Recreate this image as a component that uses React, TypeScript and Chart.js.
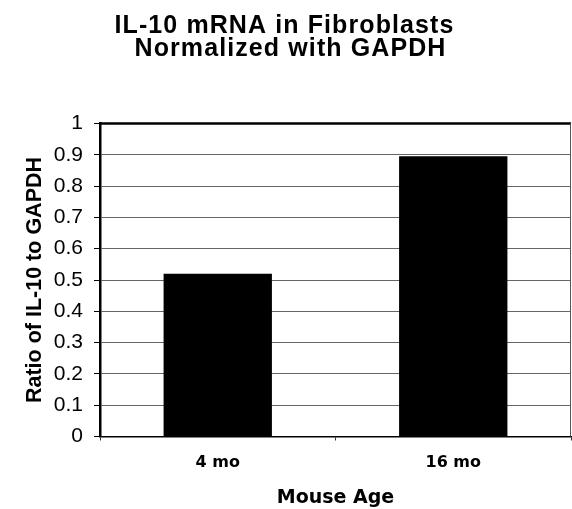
import { useEffect, useRef } from 'react';
import { Chart, registerables } from 'chart.js';

Chart.register(...registerables);

const categories = ['4 mo', '16 mo'];
const ratioValues = [0.52, 0.895];
const yTickLabels = ['0', '0.1', '0.2', '0.3', '0.4', '0.5', '0.6', '0.7', '0.8', '0.9', '1'];
const titleLines = ['IL-10 mRNA in Fibroblasts', 'Normalized with GAPDH'];
const xAxisTitle = 'Mouse Age';
const yAxisTitle = 'Ratio of IL-10 to GAPDH';

const titleCenters = [284.5, 290.5];
const titleBaselines = [33, 56];

const framePlugin = {
  id: 'frame',
  afterDatasetsDraw(chart: any) {
    const { ctx, chartArea } = chart;
    ctx.save();
    ctx.strokeStyle = '#000';
    ctx.lineWidth = 2.5;
    ctx.beginPath();
    ctx.moveTo(chartArea.left - 1, chartArea.top);
    ctx.lineTo(chartArea.right, chartArea.top);
    ctx.stroke();
    ctx.lineWidth = 1;
    ctx.strokeStyle = '#555';
    ctx.beginPath();
    ctx.moveTo(chartArea.right - 0.5, chartArea.top);
    ctx.lineTo(chartArea.right - 0.5, chartArea.bottom);
    ctx.stroke();
    ctx.restore();
  },
  afterDraw(chart: any) {
    const { ctx } = chart;
    ctx.save();
    ctx.fillStyle = '#000';
    ctx.font = 'bold 25px "Liberation Sans", Arial, sans-serif';
    try { (ctx as any).letterSpacing = '1.1px'; } catch (e) {}
    ctx.textAlign = 'center';
    ctx.textBaseline = 'alphabetic';
    titleLines.forEach((line, i) => {
      ctx.fillText(line, titleCenters[i], titleBaselines[i]);
    });
    ctx.restore();
  },
};

export default function App() {
  const ref = useRef<HTMLCanvasElement | null>(null);
  useEffect(() => {
    if (!ref.current) return;
    const chart = new Chart(ref.current, {
      type: 'bar',
      data: {
        labels: categories,
        datasets: [
          {
            data: ratioValues,
            backgroundColor: '#000',
            borderWidth: 0,
            categoryPercentage: 1,
            barPercentage: 0.46,
          },
        ],
      },
      plugins: [framePlugin],
      options: {
        responsive: false,
        animation: false,
        devicePixelRatio: 1,
        layout: { padding: { left: 0, right: 1, top: 123.5, bottom: 0 } },
        plugins: {
          legend: { display: false },
          tooltip: { enabled: false },
          title: { display: false },
        },
        scales: {
          x: {
            afterFit: (s: any) => { s.height = 72.5; },
            grid: { display: true, drawOnChartArea: false, drawTicks: true, tickLength: 4, tickColor: '#333' },
            border: { color: '#000', width: 1.5 },
            ticks: {
              color: '#000',
              padding: 13,
              font: { family: 'DejaVu Sans, sans-serif', size: 16, weight: 'bold' },
            },
            title: {
              display: true,
              text: xAxisTitle,
              color: '#000',
              font: { family: 'DejaVu Sans, sans-serif', size: 19, weight: 'bold' },
              padding: { top: 0, bottom: 0 },
            },
          },
          y: {
            min: 0,
            max: 1,
            afterFit: (s: any) => { s.width = 100; },
            grid: { color: '#666', lineWidth: 1, tickLength: 6, tickColor: '#000' },
            border: { color: '#000', width: 2.5 },
            ticks: {
              stepSize: 0.1,
              color: '#000',
              padding: 11,
              font: { family: 'Liberation Sans, Arial, sans-serif', size: 21 },
              callback: (_v: any, i: number) => yTickLabels[i],
            },
            title: {
              display: true,
              text: yAxisTitle,
              color: '#000',
              font: { family: 'Liberation Sans, Arial, sans-serif', size: 21.5, weight: 'bold' },
              padding: { top: 22, bottom: 0 },
            },
          },
        },
      },
    });
    return () => chart.destroy();
  }, []);
  return (
    <div style={{ position: 'absolute', left: 0, top: 0, width: 572, height: 509, background: '#fff' }}>
      <canvas ref={ref} width={572} height={509} />
    </div>
  );
}
